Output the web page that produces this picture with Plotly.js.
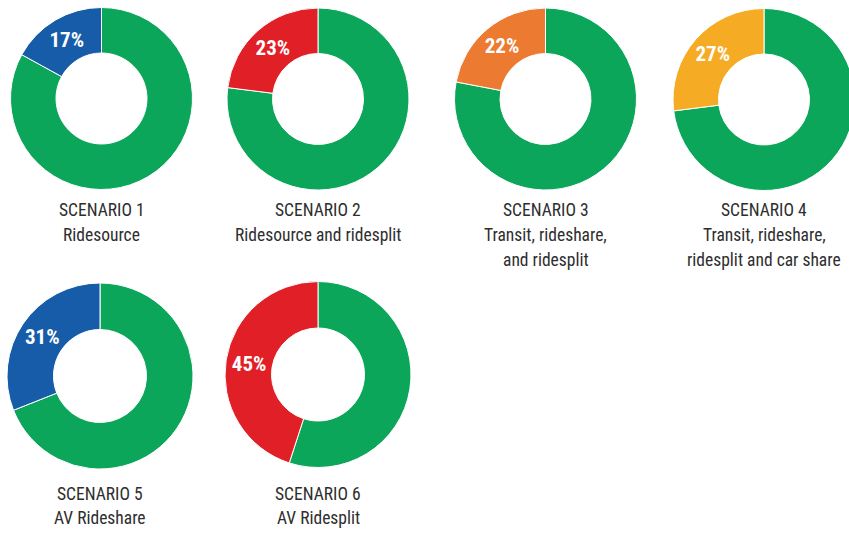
<!DOCTYPE html>
<html>
<head>
<meta charset="utf-8">
<script src="https://cdn.plot.ly/plotly-3.0.1.min.js"></script>
<style>
  html, body { margin: 0; padding: 0; background: #fff; overflow: hidden; width: 849px; height: 533px; }
  #chart { width: 870px; height: 533px; }
</style>
</head>
<body>
<div id="chart"></div>
<script>
// ---- data ----
const scenarios = ['SCENARIO 1', 'SCENARIO 2', 'SCENARIO 3', 'SCENARIO 4', 'SCENARIO 5', 'SCENARIO 6'];
const descriptions = [
  ['Ridesource'],
  ['Ridesource and ridesplit'],
  ['Transit, rideshare,', 'and ridesplit'],
  ['Transit, rideshare,', 'ridesplit and car share'],
  ['AV Rideshare'],
  ['AV Ridesplit']
];
const shares = [17, 23, 22, 27, 31, 45];
const remainders = [83, 77, 78, 73, 69, 55];
const accentColors = ['#175ca9', '#e11f27', '#ec7b31', '#f6ab24', '#175ca9', '#e11f27'];
const restColor = '#0ca65b';

// ---- layout (pixels) ----
const W = 870, H = 533;
const centers = [[101.5, 98.5], [318, 99], [545.5, 99], [764, 99.5], [100, 376], [318, 374.5]];
const radii = [91, 91, 91, 91, 93, 93];
const labelTop = [198, 198, 198, 198, 482, 482];
const lineStep = [25, 25, 25, 25, 23.5, 23.5];
const FONT = '"Roboto Condensed", "Liberation Sans Narrow", "Arial Narrow", "DejaVu Sans Condensed", "Liberation Sans", Arial, sans-serif';

const traces = [];
const annotations = [];
scenarios.forEach((s, i) => {
  const [cx, cy] = centers[i];
  const r = radii[i];
  traces.push({
    type: 'pie',
    values: [remainders[i], shares[i]],
    labels: ['other', 'share'],
    text: ['', shares[i] + '%'],
    textinfo: 'text',
    textposition: 'inside',
    insidetextorientation: 'horizontal',
    insidetextfont: { family: FONT, size: 21, color: '#ffffff', weight: 'bold' },
    hole: 0.5,
    sort: false,
    direction: 'clockwise',
    rotation: 0,
    marker: { colors: [restColor, accentColors[i]], line: { color: '#ffffff', width: 1 } },
    domain: { x: [(cx - r) / W, (cx + r) / W], y: [1 - (cy + r) / H, 1 - (cy - r) / H] },
    showlegend: false,
    hoverinfo: 'none'
  });
  const lines = [s].concat(descriptions[i]);
  lines.forEach((t, k) => {
    annotations.push({
      xref: 'paper', yref: 'paper',
      x: cx / W, y: 1 - (labelTop[i] + k * lineStep[i]) / H,
      xanchor: 'center', yanchor: 'top',
      showarrow: false,
      text: t,
      font: { family: FONT, size: 17.5, color: '#2e2e2e' }
    });
  });
});

Plotly.newPlot('chart', traces, {
  width: W, height: H,
  margin: { l: 0, r: 0, t: 0, b: 0 },
  paper_bgcolor: '#ffffff',
  plot_bgcolor: '#ffffff',
  annotations: annotations
}, { displayModeBar: false, staticPlot: true });
</script>
</body>
</html>
